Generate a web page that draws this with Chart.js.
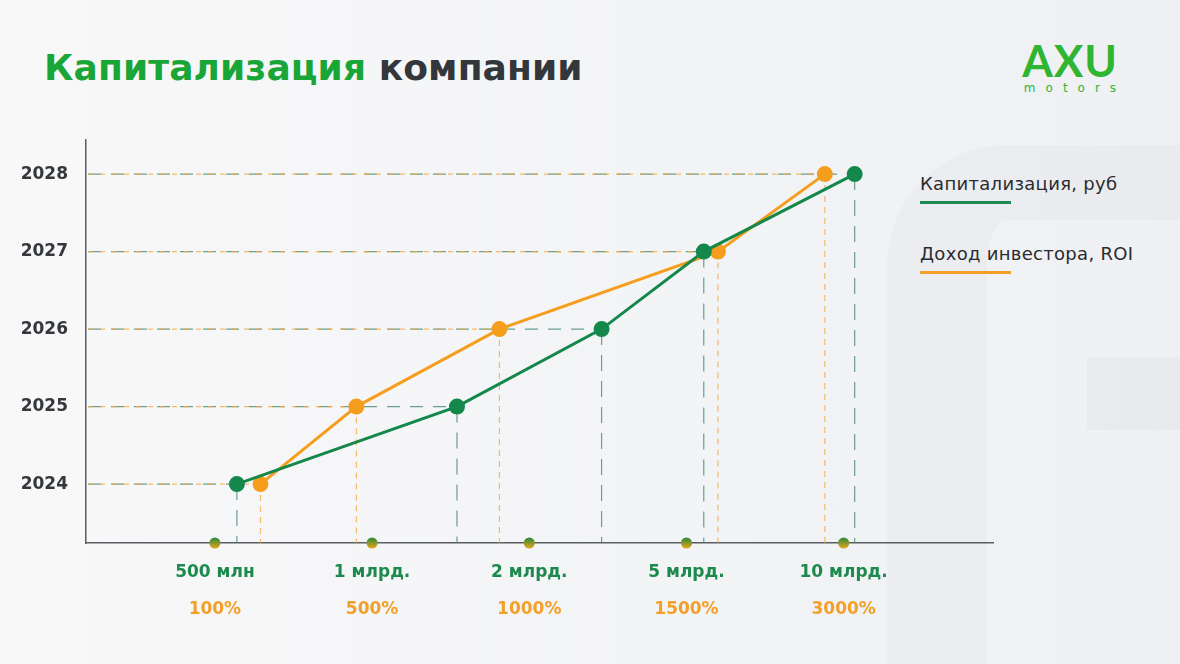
<!DOCTYPE html>
<html>
<head>
<meta charset="utf-8">
<script src="https://cdn.jsdelivr.net/npm/chart.js@4.4.1/dist/chart.umd.min.js"></script>
<style>
  html,body{margin:0;padding:0;}
  body{width:1180px;height:664px;overflow:hidden;position:relative;
    background:linear-gradient(90deg,#f8f8f9 0%,#f3f4f6 55%,#eef0f3 100%);
    font-family:"DejaVu Sans",sans-serif;}
  .shape-r{position:absolute;left:887px;top:145px;width:420px;height:640px;box-sizing:border-box;
    border-left:100px solid rgba(60,70,90,0.022);border-top:75px solid rgba(60,70,90,0.022);
    border-top-left-radius:120px;}
  .shape-rect{position:absolute;left:1087px;top:357px;width:100px;height:73px;background:rgba(60,70,90,0.03);}
  #title{position:absolute;left:44px;top:47px;font:700 36px "DejaVu Sans",sans-serif;white-space:nowrap;color:#33363b;letter-spacing:0.1px}
  #title .g{color:#1aa637}
  #logo{position:absolute;left:1008px;top:37px;width:124px;text-align:center;color:#2fb532}
  #logo .big{font:700 44px "Lato",sans-serif;letter-spacing:1px;line-height:46px}
  #logo .small{font:400 12px "DejaVu Sans",sans-serif;letter-spacing:10px;line-height:10px;margin-left:10px}
  .leg{position:absolute;left:920px;font:400 18px "DejaVu Sans",sans-serif;color:#2a2c30;white-space:nowrap;letter-spacing:0.3px}
  .legline{position:absolute;left:920px;width:91px;height:3px;}
  canvas{position:absolute;left:0;top:0;}
</style>
</head>
<body>
<div class="shape-r"></div>
<div class="shape-rect"></div>
<div id="title"><span class="g">Капитализация</span> компании</div>
<div id="logo"><div class="big">AXU</div><div class="small">motors</div></div>
<div class="leg" style="top:173px">Капитализация, руб</div>
<div class="legline" style="top:201px;background:#1c8a52"></div>
<div class="leg" style="top:243px">Доход инвестора, ROI</div>
<div class="legline" style="top:271px;background:#f2a02a"></div>
<canvas id="c" width="1180" height="664"></canvas>
<script>
// ---- data ----
const seriesNames = ['Капитализация, руб', 'Доход инвестора, ROI'];
const years = [2024, 2025, 2026, 2027, 2028];
const capitalX = [1.14, 2.54, 3.46, 4.11, 5.07];   // position on the capitalisation scale
const roiX = [1.29, 1.90, 2.81, 4.20, 4.88];       // position on the ROI scale
const tickPositions = [1, 2, 3, 4, 5];
const capitalLabels = ['500 млн', '1 млрд.', '2 млрд.', '5 млрд.', '10 млрд.'];
const roiLabels = ['100%', '500%', '1000%', '1500%', '3000%'];

const GREEN = '#14884b';
const ORANGE = '#f59e1e';

const guides = {
  id: 'guides',
  beforeDatasetsDraw(chart) {
    const {ctx, chartArea, scales: {x, y}} = chart;
    const styles = [
      {color: 'rgba(60,130,110,0.75)', hdash: [13, 10], vdash: [16, 10], w: 1.2},
      {color: 'rgba(245,165,60,0.75)', hdash: [5, 7], vdash: [6, 5], w: 1.2}
    ];
    chart.data.datasets.forEach((ds, i) => {
      const st = styles[i];
      ds.data.forEach(p => {
        const px = x.getPixelForValue(p.x), py = y.getPixelForValue(p.y);
        ctx.save();
        ctx.strokeStyle = st.color; ctx.lineWidth = st.w;
        ctx.setLineDash(st.hdash);
        ctx.beginPath(); ctx.moveTo(chartArea.left + 2, py); ctx.lineTo(px, py); ctx.stroke();
        ctx.setLineDash(st.vdash);
        ctx.beginPath(); ctx.moveTo(px, py); ctx.lineTo(px, chartArea.bottom); ctx.stroke();
        ctx.restore();
      });
    });
  },
  afterDraw(chart) {
    const {ctx, chartArea, scales: {x}} = chart;
    tickPositions.forEach(v => {
      const px = x.getPixelForValue(v), py = chartArea.bottom;
      const g = ctx.createLinearGradient(0, py - 5, 0, py + 5);
      g.addColorStop(0, '#2f8a3a'); g.addColorStop(1, '#e0a51c');
      ctx.save(); ctx.fillStyle = g;
      ctx.beginPath(); ctx.arc(px, py, 5.5, 0, Math.PI * 2); ctx.fill(); ctx.restore();
    });
  }
};

const tickFont = {family: '"DejaVu Sans", sans-serif', size: 17, weight: 'bold'};

new Chart(document.getElementById('c'), {
  type: 'scatter',
  data: {
    datasets: [
      {label: seriesNames[0], data: years.map((yv, i) => ({x: capitalX[i], y: yv})),
       borderColor: GREEN, backgroundColor: GREEN, borderWidth: 3, showLine: true,
       pointRadius: 8, pointBorderWidth: 0, pointHoverRadius: 8},
      {label: seriesNames[1], data: years.map((yv, i) => ({x: roiX[i], y: yv})),
       borderColor: ORANGE, backgroundColor: ORANGE, borderWidth: 3, showLine: true,
       pointRadius: 8, pointBorderWidth: 0, pointHoverRadius: 8}
    ]
  },
  options: {
    responsive: false, animation: false, devicePixelRatio: 1,
    layout: {padding: {top: 140, right: 187, left: 0, bottom: 0}},
    plugins: {legend: {display: false}, tooltip: {enabled: false}},
    scales: {
      x: {type: 'linear', position: 'bottom', weight: 0, min: 0.18, max: 5.95,
          grid: {display: false, drawTicks: false},
          border: {color: '#5a5d62', width: 1.5},
          afterBuildTicks: s => { s.ticks = tickPositions.map(v => ({value: v})); },
          afterFit: s => { s.height = 47; },
          ticks: {color: '#1d8a4d', font: tickFont, padding: 19, maxRotation: 0, autoSkip: false,
                  callback: (v) => capitalLabels[tickPositions.indexOf(v)]}},
      x2: {type: 'linear', axis: 'x', position: 'bottom', weight: 1, min: 0.18, max: 5.95,
          grid: {display: false, drawTicks: false}, border: {display: false},
          afterBuildTicks: s => { s.ticks = tickPositions.map(v => ({value: v})); },
          afterFit: s => { s.height = 74; },
          ticks: {color: '#f2a02a', font: tickFont, padding: 9, maxRotation: 0, autoSkip: false,
                  callback: (v) => roiLabels[tickPositions.indexOf(v)]}},
      y: {type: 'linear', min: 2023.24, max: 2028.44,
          grid: {display: false, drawTicks: false},
          border: {color: '#5a5d62', width: 1.5},
          afterBuildTicks: s => { s.ticks = years.map(v => ({value: v})); },
          afterFit: s => { s.width = 86; },
          ticks: {color: '#34373c', font: tickFont, padding: 18,
                  callback: v => String(v)}}
    }
  },
  plugins: [guides]
});
</script>
</body>
</html>
